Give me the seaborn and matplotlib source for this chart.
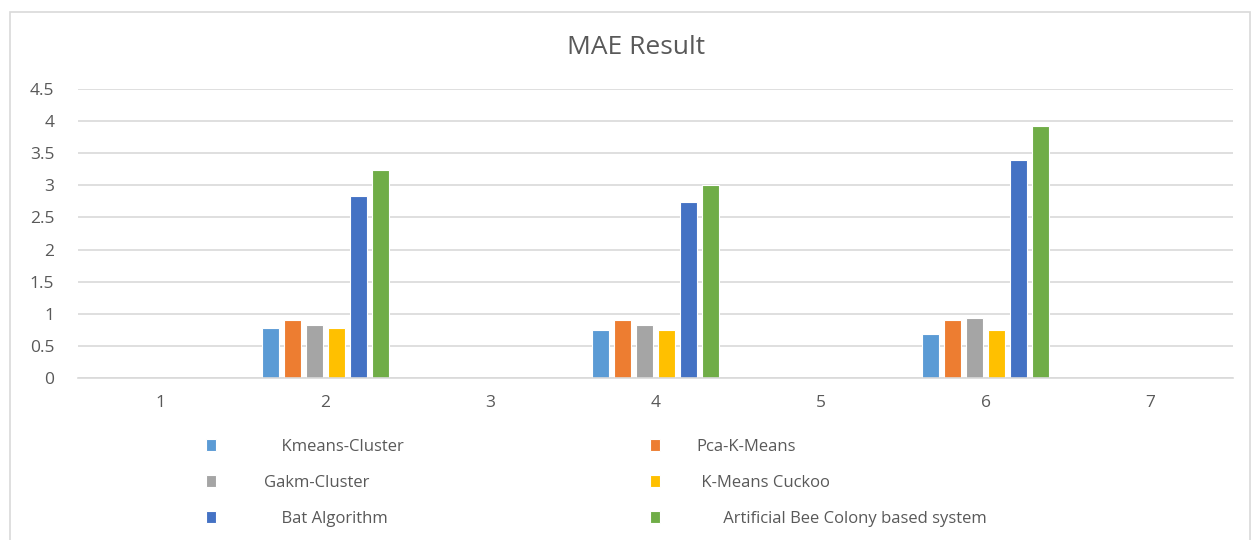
import matplotlib
matplotlib.use('Agg')
import matplotlib.pyplot as plt
from matplotlib.patches import Rectangle
import seaborn as sns
import pandas as pd

# x axis categories (only 2, 4 and 6 carry data)
categories = ['1', '2', '3', '4', '5', '6', '7']
runs = ['2', '4', '6']

# MAE values
kmeans_cluster = [0.78, 0.75, 0.68]
pca_k_means = [0.90, 0.90, 0.90]
gakm_cluster = [0.83, 0.83, 0.94]
k_means_cuckoo = [0.78, 0.75, 0.75]
bat_algorithm = [2.83, 2.74, 3.39]
abc_system = [3.24, 3.01, 3.92]

methods = ['Kmeans-Cluster', 'Pca-K-Means', 'Gakm-Cluster', 'K-Means Cuckoo',
           'Bat Algorithm', 'Artificial Bee Colony based system']
colors = ['#5B9BD5', '#ED7D31', '#A5A5A5', '#FFC000', '#4472C4', '#70AD47']
# legend labels keep the odd leading spaces of the original
legend_labels = ['    Kmeans-Cluster', 'Pca-K-Means', 'Gakm-Cluster', ' K-Means Cuckoo',
                 '    Bat Algorithm', '      Artificial Bee Colony based system']

all_values = [kmeans_cluster, pca_k_means, gakm_cluster, k_means_cuckoo, bat_algorithm, abc_system]
rows = []
for name, vals in zip(methods, all_values):
    for r, v in zip(runs, vals):
        rows.append({'Run': r, 'MAE': v, 'Method': name})
df = pd.DataFrame(rows)

sns.set_style('white')
plt.rcParams['font.family'] = ['Open Sans', 'DejaVu Sans']
text_color = '#595959'
grid_color = '#D9D9D9'

fig = plt.figure(figsize=(12.57, 5.4), dpi=100)
ax = fig.add_axes([78 / 1257, 162 / 540, 1155 / 1257, 289 / 540])

sns.barplot(data=df, x='Run', y='MAE', hue='Method', order=categories, hue_order=methods,
            palette=colors, saturation=1, width=0.8, gap=0.25, errorbar=None,
            edgecolor='white', linewidth=0.8, ax=ax)

ax.set_xlim(-0.5, 6.5)
ax.set_ylim(0, 4.5)
ax.set_yticks([i * 0.5 for i in range(10)])
ax.set_yticklabels(['%g' % (i * 0.5) for i in range(10)])
ax.set_xlabel('')
ax.set_ylabel('')
ax.yaxis.grid(True, color=grid_color, linewidth=1.2)
ax.set_axisbelow(True)
for s in ['left', 'top', 'right']:
    ax.spines[s].set_visible(False)
ax.spines['bottom'].set_color(grid_color)
ax.spines['bottom'].set_linewidth(1.2)
ax.tick_params(axis='y', length=0, pad=17, labelsize=12.5, labelcolor=text_color)
ax.tick_params(axis='x', length=0, pad=12, labelsize=12.5, labelcolor=text_color)

handles, labels = ax.get_legend_handles_labels()
ax.get_legend().remove()

leg_kw = dict(loc='upper left', frameon=False, handlelength=0.6, handleheight=0.7,
              labelspacing=1.2, fontsize=12, labelcolor=text_color,
              borderaxespad=0, borderpad=0)
fig.legend([handles[i] for i in (0, 2, 4)], [legend_labels[i] for i in (0, 2, 4)],
           bbox_to_anchor=(206 / 1257, 1 - 439 / 540), handletextpad=2.9, **leg_kw)
fig.legend([handles[i] for i in (1, 3, 5)], [legend_labels[i] for i in (1, 3, 5)],
           bbox_to_anchor=(650 / 1257, 1 - 439 / 540), handletextpad=2.2, **leg_kw)

fig.text(636 / 1257, 1 - 47 / 540, 'MAE Result', ha='center', va='center',
         fontsize=19, color=text_color)

# chart frame
fig.patches.append(Rectangle((10 / 1257, -0.02), 1240 / 1257, 1 - 12 / 540 + 0.02,
                             transform=fig.transFigure, fill=False,
                             edgecolor=grid_color, linewidth=1.2))

fig.savefig('out.png', dpi=100)
